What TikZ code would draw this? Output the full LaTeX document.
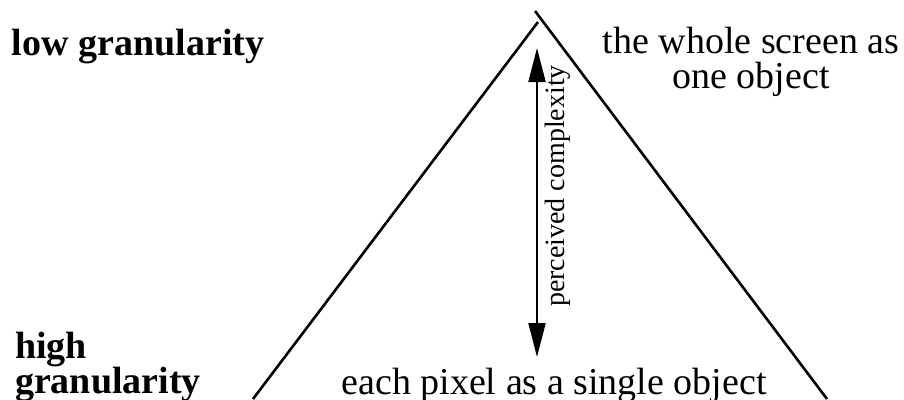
\documentclass[tikz,border=0pt]{standalone}
\usepackage{fontspec}
\setmainfont{Liberation Serif}
\usetikzlibrary{arrows.meta}

\begin{document}
\begin{tikzpicture}[
    x=1pt, y=-1pt,
    every node/.style={inner sep=0pt, outer sep=0pt},
    label/.style={font=\fontsize{38}{35}\selectfont, align=center},
    level/.style={font=\fontsize{38}{35}\selectfont\bfseries, align=left, anchor=base west},
    side/.style={line width=2.6pt},
    arrow/.style={{Triangle[length=34pt,width=17pt]}-{Triangle[length=34pt,width=17pt]}, line width=2pt}
]
    \useasboundingbox (0,0) rectangle (904,399);

    % ---- Granularity ----
    \node[level] (low) at (12,55) {low granularity};
    \node[level] (high) at (15,393) {high\\granularity};

    % ---- Pyramid ----
    \coordinate (apexl) at (538,22);
    \coordinate (apexr) at (535,11);
    \coordinate (basel) at (253,399);
    \coordinate (baser) at (827,399);
    \draw[side] (apexl) -- (basel);
    \draw[side] (apexr) -- (baser);

    % ---- Ends ----
    \node[label, anchor=base] (whole) at (751,88) {the whole screen as\\one object};
    \node[label, anchor=base] (pixel) at (554,394) {each pixel as a single object};

    % ---- Complexity ----
    \coordinate (ctop) at (537,48);
    \coordinate (cbot) at (537,357);
    \draw[arrow] (cbot) -- (ctop);
    \node[font=\fontsize{28}{30}\selectfont, rotate=90, anchor=base] (cplx) at (564,186) {perceived complexity};

\end{tikzpicture}
\end{document}
